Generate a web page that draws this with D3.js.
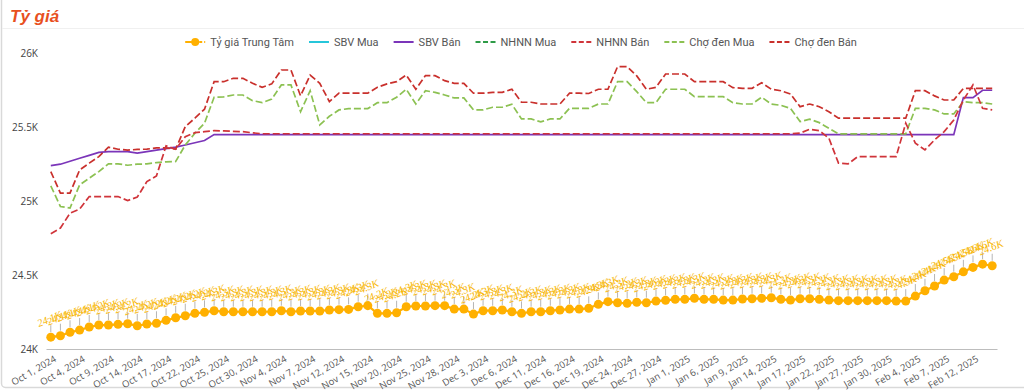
<!DOCTYPE html>
<html><head><meta charset="utf-8">
<script src="https://cdn.jsdelivr.net/npm/d3@7"></script>
<style>body{margin:0;background:#fff}svg{display:block}</style>
</head><body><svg id="c" width="1024" height="392"></svg>
<script>
const dates = [
"Oct 1, 2024","Oct 2, 2024","Oct 3, 2024","Oct 4, 2024","Oct 7, 2024","Oct 8, 2024","Oct 9, 2024","Oct 10, 2024","Oct 11, 2024",
"Oct 14, 2024","Oct 15, 2024","Oct 16, 2024","Oct 17, 2024","Oct 18, 2024","Oct 21, 2024","Oct 22, 2024","Oct 23, 2024","Oct 24, 2024","Oct 25, 2024",
"Oct 28, 2024","Oct 29, 2024","Oct 30, 2024","Oct 31, 2024","Nov 1, 2024","Nov 4, 2024","Nov 5, 2024","Nov 6, 2024","Nov 7, 2024","Nov 8, 2024",
"Nov 11, 2024","Nov 12, 2024","Nov 13, 2024","Nov 14, 2024","Nov 15, 2024","Nov 18, 2024","Nov 19, 2024","Nov 20, 2024","Nov 21, 2024","Nov 22, 2024",
"Nov 25, 2024","Nov 26, 2024","Nov 27, 2024","Nov 28, 2024","Nov 29, 2024","Dec 2, 2024","Dec 3, 2024","Dec 4, 2024","Dec 5, 2024","Dec 6, 2024",
"Dec 9, 2024","Dec 10, 2024","Dec 11, 2024","Dec 12, 2024","Dec 13, 2024","Dec 16, 2024","Dec 17, 2024","Dec 18, 2024","Dec 19, 2024","Dec 20, 2024",
"Dec 23, 2024","Dec 24, 2024","Dec 25, 2024","Dec 26, 2024","Dec 27, 2024","Dec 30, 2024","Dec 31, 2024","Jan 1, 2025","Jan 2, 2025","Jan 3, 2025",
"Jan 6, 2025","Jan 7, 2025","Jan 8, 2025","Jan 9, 2025","Jan 10, 2025","Jan 13, 2025","Jan 14, 2025","Jan 15, 2025","Jan 16, 2025","Jan 17, 2025",
"Jan 20, 2025","Jan 21, 2025","Jan 22, 2025","Jan 23, 2025","Jan 24, 2025","Jan 27, 2025","Jan 28, 2025","Jan 29, 2025","Jan 30, 2025","Jan 31, 2025",
"Feb 3, 2025","Feb 4, 2025","Feb 5, 2025","Feb 6, 2025","Feb 7, 2025","Feb 10, 2025","Feb 11, 2025","Feb 12, 2025","Feb 13, 2025","Feb 14, 2025"];

const tickLabels = ["Oct 1, 2024","Oct 4, 2024","Oct 9, 2024","Oct 14, 2024","Oct 17, 2024","Oct 22, 2024","Oct 25, 2024","Oct 30, 2024",
"Nov 4, 2024","Nov 7, 2024","Nov 12, 2024","Nov 15, 2024","Nov 20, 2024","Nov 25, 2024","Nov 28, 2024","Dec 3, 2024","Dec 6, 2024",
"Dec 11, 2024","Dec 16, 2024","Dec 19, 2024","Dec 24, 2024","Dec 27, 2024","Jan 1, 2025","Jan 6, 2025","Jan 9, 2025","Jan 14, 2025",
"Jan 17, 2025","Jan 22, 2025","Jan 27, 2025","Jan 30, 2025","Feb 4, 2025","Feb 7, 2025","Feb 12, 2025"];

const yTicks = [24000, 24500, 25000, 25500, 26000];

const central = [24080,24090,24113,24128,24149,24162,24162,24167,24171,24157,24169,24174,24194,24211,24225,24241,24248,24259,24252,24252,
24252,24252,24252,24252,24259,24252,24257,24257,24257,24264,24266,24268,24286,24293,24241,24241,24245,24286,24291,24291,
24293,24293,24270,24270,24236,24259,24259,24264,24252,24241,24252,24252,24259,24264,24270,24270,24275,24302,24320,24313,
24309,24316,24313,24324,24329,24336,24336,24343,24336,24336,24331,24331,24338,24340,24343,24347,24336,24331,24340,24340,
24336,24331,24327,24327,24327,24327,24327,24327,24324,24324,24358,24394,24426,24466,24489,24522,24552,24574,24563];

const sbvMua = [];

const sbvBan = [25240,25250,25270,25290,25310,25330,25335,25335,25335,25325,25335,25345,25355,25365,25380,25395,25410,25450,25450,25450,
25450,25450,25450,25450,25450,25450,25450,25450,25450,25450,25450,25450,25450,25450,25450,25450,25450,25450,25450,25450,
25450,25450,25450,25450,25450,25450,25450,25450,25450,25450,25450,25450,25450,25450,25450,25450,25450,25450,25450,25450,
25450,25450,25450,25450,25450,25450,25450,25450,25450,25450,25450,25450,25450,25450,25450,25450,25450,25450,25450,25450,
25450,25450,25450,25450,25450,25450,25450,25450,25450,25450,25450,25450,25450,25450,25450,25700,25700,25750,25750];

const nhnnMua = [];

const nhnnBan = [24780,24818,24919,24946,25031,25031,25031,25031,25004,25027,25132,25171,25374,25351,25436,25463,25470,25477,25475,25472,
25470,25462,25456,25456,25456,25456,25456,25456,25456,25456,25456,25456,25456,25456,25456,25456,25456,25456,25456,25456,
25456,25456,25456,25456,25456,25456,25456,25456,25456,25456,25456,25456,25456,25456,25456,25456,25456,25456,25456,25456,
25456,25456,25456,25456,25456,25456,25456,25456,25456,25456,25456,25456,25456,25456,25456,25456,25456,25456,25460,25486,
25477,25426,25257,25252,25301,25301,25301,25301,25301,25527,25392,25347,25414,25470,25549,25684,25786,25628,25617];

const choDenMua = [25103,24964,24953,25110,25155,25200,25252,25252,25243,25250,25252,25261,25266,25268,25380,25459,25527,25703,25705,25718,
25718,25680,25666,25690,25786,25786,25605,25747,25516,25574,25617,25626,25626,25626,25666,25666,25703,25757,25657,25747,
25736,25718,25698,25698,25617,25617,25635,25635,25655,25556,25556,25536,25556,25556,25628,25628,25628,25657,25657,25808,
25808,25741,25666,25666,25757,25757,25757,25707,25707,25707,25707,25666,25657,25657,25703,25657,25648,25628,25538,25554,
25531,25493,25455,25455,25455,25455,25455,25455,25455,25455,25628,25628,25617,25590,25590,25673,25666,25666,25657];

const choDenBan = [25200,25054,25054,25211,25257,25301,25365,25351,25345,25350,25352,25360,25360,25352,25504,25561,25622,25808,25808,25831,
25831,25797,25770,25793,25887,25887,25712,25853,25797,25673,25730,25730,25730,25730,25770,25793,25808,25853,25757,25849,
25849,25815,25797,25797,25730,25730,25736,25736,25757,25669,25669,25657,25657,25657,25730,25730,25728,25757,25757,25910,
25910,25847,25757,25770,25860,25860,25860,25808,25808,25808,25808,25768,25763,25763,25801,25757,25747,25725,25639,25657,
25639,25605,25561,25561,25561,25561,25561,25561,25561,25561,25747,25747,25712,25684,25684,25763,25763,25763,25763];

const seriesNames = ["Tỷ giá Trung Tâm","SBV Mua","SBV Bán","NHNN Mua","NHNN Bán","Chợ đen Mua","Chợ đen Bán"];
const seriesColors = ["#ffb000","#26c6da","#7b35b9","#2e9b47","#d0343a","#8cc152","#c9302c"];

const svg = d3.select("#c");

// card frame
svg.append("rect").attr("x",1.5).attr("y",-10).attr("width",1100).attr("height",397.5)
  .attr("rx",4).attr("fill","#fff").attr("stroke","#d9d9d9").attr("stroke-width",1.5);
svg.append("line").attr("x1",2).attr("x2",1024).attr("y1",28.5).attr("y2",28.5).attr("stroke","#f0f0f0");

svg.append("text").attr("x",10).attr("y",22).text("Tỷ giá")
  .attr("font-family","Liberation Sans, Arial, sans-serif").attr("font-size",17)
  .attr("font-weight","bold").attr("font-style","italic").attr("fill","#e8501e");

const x = d3.scalePoint().domain(dates).range([46, 997]).padding(0.5);
const y = d3.scaleLinear().domain([24000, 26000]).range([349, 53.3]);

// x axis
const gx = svg.append("g").attr("transform","translate(0,349)")
  .call(d3.axisBottom(x).tickValues(tickLabels).tickSize(0).tickSizeOuter(0));
gx.select(".domain").attr("stroke","#bdbdbd");
gx.selectAll("text").attr("y",0).attr("dy","0.35em")
  .attr("transform","translate(4,9) rotate(-30)").style("text-anchor","end")
  .attr("font-family","Open Sans, sans-serif").attr("font-size",9.5).attr("fill","#555");

// y axis
const gy = svg.append("g").attr("transform","translate(46,0)")
  .call(d3.axisLeft(y).tickValues(yTicks).tickSize(0).tickPadding(8).tickFormat(d => (d/1000) + "K"));
gy.select(".domain").remove();
gy.selectAll("text").attr("font-family","Open Sans, sans-serif").attr("font-size",10).attr("fill","#444");

const line = d3.line().defined(d => d != null).x((d,i) => x(dates[i])).y(d => y(d));

const lineSeries = [
  {data: sbvMua, color: seriesColors[1], dash: null},
  {data: sbvBan, color: seriesColors[2], dash: null},
  {data: nhnnMua, color: seriesColors[3], dash: "7,3"},
  {data: choDenMua, color: seriesColors[5], dash: "7,3"},
  {data: choDenBan, color: seriesColors[6], dash: "7,3"},
  {data: nhnnBan, color: seriesColors[4], dash: "7,3"}
];
lineSeries.forEach(s => {
  if (!s.data.length) return;
  svg.append("path").datum(s.data).attr("d", line).attr("fill","none")
    .attr("stroke", s.color).attr("stroke-width",1.7)
    .attr("stroke-dasharray", s.dash);
});

// central rate
const gc = svg.append("g");
gc.append("path").datum(central).attr("d", line).attr("fill","none")
  .attr("stroke", seriesColors[0]).attr("stroke-width",2.2);
gc.selectAll("line.stem").data(central).join("line").attr("class","stem")
  .attr("x1",(d,i)=>x(dates[i])).attr("x2",(d,i)=>x(dates[i]))
  .attr("y1",d=>y(d)-5).attr("y2",d=>y(d)-12).attr("stroke","#b5b5b5").attr("stroke-width",1);
gc.selectAll("circle").data(central).join("circle")
  .attr("cx",(d,i)=>x(dates[i])).attr("cy",d=>y(d)).attr("r",4.5).attr("fill",seriesColors[0]);
gc.selectAll("text").data(central).join("text")
  .attr("transform",(d,i)=>`translate(${x(dates[i])},${y(d)-15}) rotate(-22)`)
  .attr("text-anchor","middle").attr("font-family","Liberation Serif, serif").attr("font-style","italic")
  .attr("font-size",10.5).attr("fill","#f7b500").text(d => (d/1000).toFixed(1) + "K");

// legend
const lg = svg.append("g").attr("transform","translate(0,42)");
const dashes = [null,null,null,"5,2.5","5,2.5","5,2.5","5,2.5"];
const items = [];
seriesNames.forEach((n,i) => {
  const g = lg.append("g");
  const sym = g.append("line").attr("x1",0).attr("x2",20).attr("y1",0).attr("y2",0)
    .attr("stroke",seriesColors[i]).attr("stroke-width",2).attr("stroke-dasharray",dashes[i]);
  if (i===0) {
    sym.attr("stroke-dasharray","12,2,3,2,3");
    g.append("circle").attr("cx",10).attr("cy",0).attr("r",4).attr("fill",seriesColors[0]);
  }
  const t = g.append("text").attr("x",25).attr("y",0).attr("dy","0.35em").text(n)
    .attr("font-family","Roboto, sans-serif").attr("font-size",11).attr("fill","#555");
  const w = 25 + t.node().getComputedTextLength();
  items.push({g, w});
});
const gap = 15;
const total = d3.sum(items, d => d.w) + gap*(items.length-1);
let start = 521 - total/2;
items.forEach(it => { it.g.attr("transform",`translate(${start},0)`); start += it.w + gap; });
</script></body></html>
